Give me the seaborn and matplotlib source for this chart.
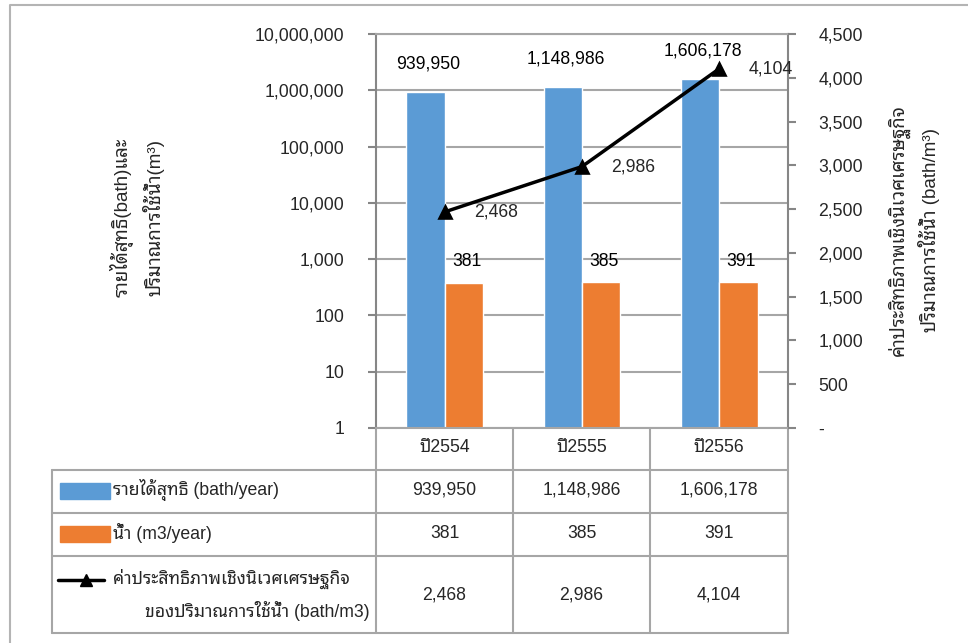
import matplotlib
matplotlib.use("Agg")
import matplotlib.pyplot as plt
import matplotlib.ticker as mtick
import pandas as pd
import seaborn as sns

years = ["ปี2554", "ปี2555", "ปี2556"]
income = [939950, 1148986, 1606178]
water = [381, 385, 391]
efficiency = [2468, 2986, 4104]

income_name = "รายได้สุทธิ (bath/year)"
water_name = "น้ำ (m3/year)"
eff_name_1 = "ค่าประสิทธิภาพเชิงนิเวศเศรษฐกิจ"
eff_name_2 = "ของปริมาณการใช้น้ำ (bath/m3)"
left_label = "รายได้สุทธิ(bath)และ\nปริมาณการใช้น้ำ(m³)"
right_label = "ค่าประสิทธิภาพเชิงนิเวศเศรษฐกิจ\nปริมาณการใช้น้ำ (bath/m³)"

BLUE = "#5B9BD5"
ORANGE = "#ED7D31"
GRID = "#A6A6A6"
SPINE = "#868686"
FS = 12.7

sns.set_theme(style="ticks")
plt.rcParams["font.family"] = ["Liberation Sans", "Noto Sans Thai Looped", "DejaVu Sans"]
plt.rcParams["font.size"] = FS

W, H = 968, 643
fig = plt.figure(figsize=(W / 100, H / 100), dpi=100)


def fx(x):
    return x / W


def fy(y):
    return 1 - y / H


ax = fig.add_axes([fx(376), fy(428), (788 - 376) / W, (428 - 34) / H])

bars = pd.DataFrame({
    "year": years * 2,
    "value": income + water,
    "series": [income_name] * 3 + [water_name] * 3,
})
sns.barplot(data=bars, x="year", y="value", hue="series", palette=[BLUE, ORANGE],
            width=0.56, legend=False, ax=ax, saturation=1)
ax.set_yscale("log")
ax.set_ylim(1, 1e7)
ax.set_xlim(-0.5, 2.5)
ax.yaxis.set_major_locator(mtick.LogLocator(base=10, numticks=10))
ax.yaxis.set_minor_locator(mtick.NullLocator())
ax.yaxis.set_major_formatter(mtick.FuncFormatter(lambda v, p: f"{v:,.0f}"))
ax.grid(axis="y", color=GRID, lw=1.5)
ax.set_axisbelow(True)
ax.set_xlabel("")
ax.set_ylabel("")
ax.set_xticks([])
for s in ["left", "right", "bottom", "top"]:
    ax.spines[s].set_visible(True)
    ax.spines[s].set_color(SPINE if s in ("left", "right") else GRID)
    ax.spines[s].set_linewidth(1.5)

for cont, dy in zip(ax.containers, [20, 15]):
    for rect in cont:
        h = rect.get_height()
        ax.annotate(f"{h:,.0f}", (rect.get_x() + rect.get_width() / 2, h),
                    xytext=(2, dy), textcoords="offset points",
                    ha="center", va="center", fontsize=FS, color="black")

ax2 = ax.twinx()
sns.pointplot(x=[0, 1, 2], y=efficiency, native_scale=True, color="black", markers="^",
              linestyles="-", ax=ax2, markersize=9, linewidth=2.5)
ax2.set_ylim(0, 4500)
ax2.set_xlim(-0.5, 2.5)
ax2.yaxis.set_major_locator(mtick.MultipleLocator(500))
ax2.yaxis.set_major_formatter(mtick.FuncFormatter(lambda v, p: "-" if v == 0 else f"{v:,.0f}"))
ax2.set_xticks([])
ax2.grid(False)
for s in ax2.spines.values():
    s.set_visible(False)
for i, v in enumerate(efficiency):
    ax2.annotate(f"{v:,.0f}", (i, v), xytext=(21, 0), textcoords="offset points",
                 ha="left", va="center", fontsize=FS, annotation_clip=False)

# tick styling last, after twinx and pointplot
ax.yaxis.set_ticks_position("left")
ax.tick_params(axis="y", which="major", length=6, width=1.5, color=SPINE, pad=17,
               labelsize=FS, left=True, direction="out")
ax2.yaxis.set_ticks_position("right")
ax2.tick_params(axis="y", which="major", length=6, width=1.5, color=SPINE, pad=16,
                labelsize=FS, right=True, direction="out")

fig.text(fx(137), fy(217), left_label, rotation=90, ha="center", va="center",
         multialignment="center", fontsize=13.5, linespacing=1.45)
fig.text(fx(914), fy(230), right_label, rotation=90, ha="center", va="center",
         multialignment="center", fontsize=13.5, linespacing=1.45)

# data table under the chart
tb = fig.add_axes([0, 0, 1, 1], zorder=-1)
tb.set_xlim(0, W)
tb.set_ylim(H, 0)
tb.axis("off")
tb.plot([10, 10, W], [H, 5, 5], color="#B4B4B4", lw=1.5)
for x in [376, 513, 650, 788]:
    tb.plot([x, x], [428, 633], color=GRID, lw=1.5)
tb.plot([52, 52], [470, 633], color=GRID, lw=1.5)
for y in [470, 513, 556, 633]:
    tb.plot([52, 788], [y, y], color=GRID, lw=1.5)

centers = [444.5, 581.5, 719]
for c, yr in zip(centers, years):
    tb.text(c, 448, yr, ha="center", va="center", fontsize=FS)
for row, yc in zip([income, water, efficiency], [490, 534, 595]):
    for c, v in zip(centers, row):
        tb.text(c, yc, f"{v:,.0f}", ha="center", va="center", fontsize=FS)

tb.add_patch(plt.Rectangle((60, 483), 50, 16, color=BLUE))
tb.text(113, 490, income_name, ha="left", va="center", fontsize=FS)
tb.add_patch(plt.Rectangle((60, 526), 50, 16, color=ORANGE))
tb.text(113, 533, water_name, ha="left", va="center", fontsize=FS)
tb.plot([58, 104], [580, 580], color="black", lw=2.5)
tb.plot([86], [580], marker="^", color="black", markersize=9)
tb.text(113, 579, eff_name_1, ha="left", va="center", fontsize=FS)
tb.text(370, 611, eff_name_2, ha="right", va="center", fontsize=FS)

fig.savefig("out.png", dpi=100)
